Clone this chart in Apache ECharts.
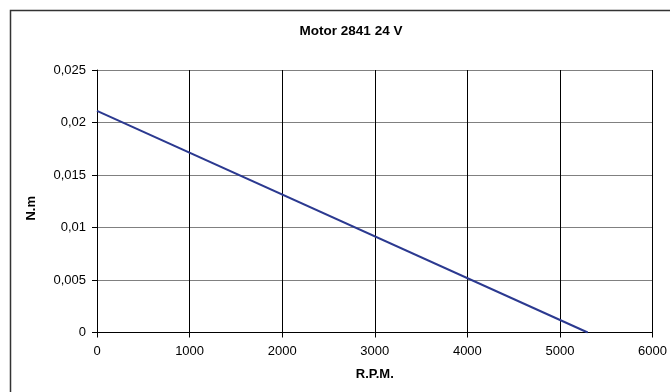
<!DOCTYPE html>
<html><head><meta charset="utf-8">
<script src="https://cdn.jsdelivr.net/npm/echarts@6/dist/echarts.min.js"></script>
<style>html,body{margin:0;padding:0;background:#fff}#c{width:670px;height:392px}</style>
</head><body><div id="c"></div>
<script>
const title = 'Motor 2841 24 V';
const xName = 'R.P.M.';
const yName = 'N.m';
const rpm = [0, 5300];
const torque = [0.0211, 0];
const xTicks = [0, 1000, 2000, 3000, 4000, 5000, 6000];
const yTickLabels = ['0', '0,005', '0,01', '0,015', '0,02', '0,025'];

const chart = echarts.init(document.getElementById('c'), null, {renderer: 'canvas'});
const font = '"Liberation Sans", Arial, sans-serif';
chart.setOption({
  animation: false,
  backgroundColor: '#fff',
  title: {text: title, left: 346, top: 19, textAlign: 'center',
    textStyle: {fontFamily: font, fontSize: 13.5, fontWeight: 'bold', color: '#000'}},
  graphic: [{type: 'rect', shape: {x: 10.5, y: 10.5, width: 700, height: 400},
    style: {fill: 'none', stroke: '#333', lineWidth: 1.5}, silent: true}],
  grid: {left: 97, right: 16, top: 70, bottom: 59.5, containLabel: false},
  xAxis: {type: 'value', min: xTicks[0], max: xTicks[xTicks.length - 1], interval: 1000,
    name: xName, nameLocation: 'middle', nameGap: 35,
    nameTextStyle: {fontFamily: font, fontSize: 13, fontWeight: 'bold', color: '#000'},
    axisLine: {show: true, onZero: false, lineStyle: {color: '#000', width: 1}},
    axisTick: {show: true, length: 5, lineStyle: {color: '#000'}},
    axisLabel: {fontFamily: font, fontSize: 13, color: '#000', margin: 12,
      formatter: v => String(v)},
    splitLine: {show: true, lineStyle: {color: '#000', width: 1}}},
  yAxis: {type: 'value', min: 0, max: 0.025, interval: 0.005,
    name: yName, nameLocation: 'middle', nameGap: 59, nameRotate: 90,
    nameTextStyle: {fontFamily: font, fontSize: 13, fontWeight: 'bold', color: '#000',
      padding: [0, 14, 0, 0]},
    axisLine: {show: true, lineStyle: {color: '#000', width: 1}},
    axisTick: {show: true, length: 5, lineStyle: {color: '#000'}},
    axisLabel: {fontFamily: font, fontSize: 13, color: '#000', margin: 11,
      formatter: v => yTickLabels[Math.round(v / 0.005)]},
    splitLine: {show: true, lineStyle: {color: '#808080', width: 1}}},
  series: [{type: 'line', data: rpm.map((x, i) => [x, torque[i]]), showSymbol: false,
    lineStyle: {color: '#2b3990', width: 2}, itemStyle: {color: '#2b3990'}}]
});
</script></body></html>
